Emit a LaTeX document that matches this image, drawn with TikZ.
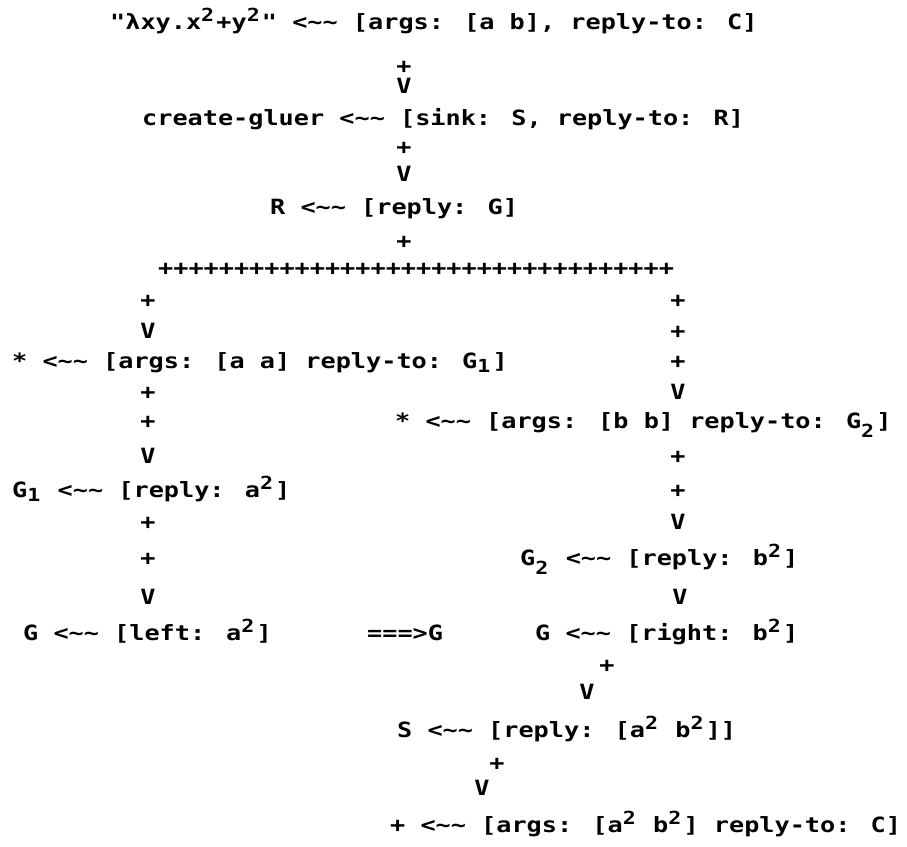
\documentclass[tikz,border=0pt]{standalone}
\usepackage{fontspec}
\newfontfamily\dm[FakeStretch=1.2]{DejaVu Sans Mono}
\newcommand\tld{\textasciitilde}
\newcommand\arr{<\tld\tld}
\newcommand\supc[1]{\makebox[15.2pt][l]{\raisebox{8pt}{\fontsize{18}{18}\selectfont #1}}}
\newcommand\subc[2]{\makebox[15.2pt][l]{\raisebox{#1}{\fontsize{18}{18}\selectfont #2}}}
\begin{document}
\begin{tikzpicture}[x=1pt,y=-1pt,
  txt/.style={anchor=base west,inner sep=0pt,font={\dm\bfseries\fontsize{21}{22}\selectfont}},
  cn/.style={anchor=base,inner sep=0pt,font={\dm\bfseries\fontsize{21}{22}\selectfont}}]
\fill[white] (0,0) rectangle (907,846);
\useasboundingbox (0,0) rectangle (907,846);
% top chain
\node[txt] (l1) at (110,29) {"λxy.x\supc{2}+y\supc{2}" \arr{} [args: [a b], reply-to: C]};
\node[cn] (c1a) at (404,73) {+};
\node[cn] (c1b) at (404,93) {V};
\node[txt] (l2) at (142,125) {create-gluer \arr{} [sink: S, reply-to: R]};
\node[cn] (c2a) at (404,154) {+};
\node[cn] (c2b) at (404,181) {V};
\node[txt] (l3) at (270,214) {R \arr{} [reply: G]};
\node[cn] (c3) at (404,248) {+};
\node[txt] (row) at (158,275) {++++++++++++++++++++++++++++++++++};
% left column
\node[cn] (lp1) at (148,307) {+};
\node[cn] (lv1) at (148,338) {V};
\node[txt] (mulA) at (12,368) {* \arr{} [args: [a a] reply-to: G\subc{-4pt}{1}]};
\node[cn] (lp2) at (148,399) {+};
\node[cn] (lp3) at (148,428) {+};
\node[cn] (lv2) at (148,463) {V};
\node[txt] (g1) at (12,497) {G\subc{-4pt}{1} \arr{} [reply: a\supc{2}]};
\node[cn] (lp4) at (148,529) {+};
\node[cn] (lp5) at (148,565) {+};
\node[cn] (lv3) at (148,604) {V};
\node[txt] (gl) at (23,640) {G \arr{} [left:\hspace{21pt}a\supc{2}]};
% right column
\node[cn] (rp1) at (678,307) {+};
\node[cn] (rp2) at (678,338) {+};
\node[cn] (rp3) at (678,368) {+};
\node[cn] (rv1) at (678,399) {V};
\node[txt] (mulB) at (395,428) {* \arr{} [args:\hspace{21pt}[b b] reply-to: G\subc{-9pt}{2}]};
\node[cn] (rp4) at (678,463) {+};
\node[cn] (rp5) at (678,497) {+};
\node[cn] (rv2) at (678,529) {V};
\node[txt] (g2) at (520,565) {G\subc{-9pt}{2} \arr{} [reply: b\supc{2}]};
\node[cn] (rv3) at (680,604) {V};
\node[txt] (gr) at (535,640) {G \arr{} [right: b\supc{2}]};
\node[txt] (eq) at (367,640) {===>G};
% bottom chain
\node[cn] (sp1) at (607,672) {+};
\node[cn] (sv1) at (587,699) {V};
\node[txt] (s) at (397,737) {S \arr{} [reply: [a\supc{2} b\supc{2}]]};
\node[cn] (sp2) at (497,770) {+};
\node[cn] (sv2) at (482,795) {V};
\node[txt] (last) at (390,832) {+ \arr{} [args: [a\supc{2} b\supc{2}] reply-to: C]};
\end{tikzpicture}
\end{document}
